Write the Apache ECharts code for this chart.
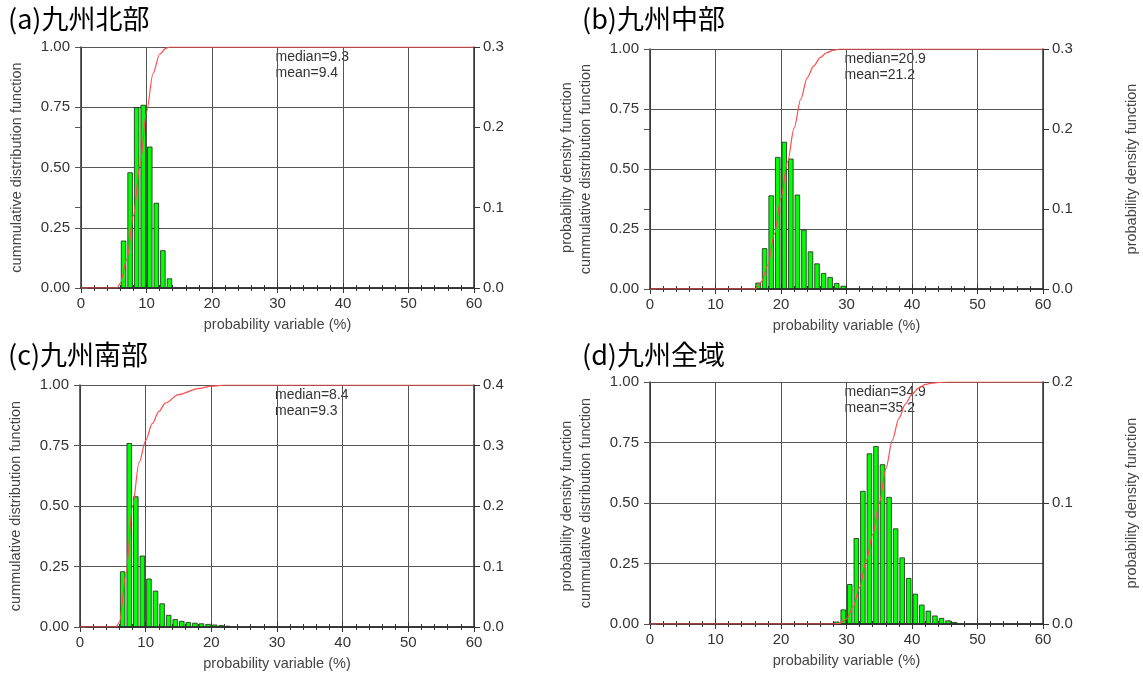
<!DOCTYPE html>
<html>
<head>
<meta charset="utf-8">
<script src="https://cdn.jsdelivr.net/npm/echarts@6/dist/echarts.min.js"></script>
<style>
html, body { margin: 0; padding: 0; background: #fff; }
#chart { width: 1143px; height: 677px; }
</style>
</head>
<body>
<div id="chart"></div>
<script>
// panel titles and summary stats
var titles = ['(a)九州北部', '(b)九州中部', '(c)九州南部', '(d)九州全域'];
var medians = ['9.3', '20.9', '8.4', '34.9'];
var means = ['9.4', '21.2', '9.3', '35.2'];
var pdfMax = [0.3, 0.3, 0.4, 0.2];

// histogram bins (bin centres, %) and probability density
var binsA = [6.5, 7.5, 8.5, 9.5, 10.5, 11.5, 12.5, 13.5];
var pdfA = [0.059, 0.144, 0.225, 0.228, 0.176, 0.106, 0.047, 0.012];
var binsB = [16.5, 17.5, 18.5, 19.5, 20.5, 21.5, 22.5, 23.5, 24.5, 25.5, 26.5, 27.5, 28.5, 29.5];
var pdfB = [0.008, 0.051, 0.117, 0.165, 0.184, 0.163, 0.118, 0.074, 0.047, 0.032, 0.020, 0.015, 0.0075, 0.004];
var binsC = [6.5, 7.5, 8.5, 9.5, 10.5, 11.5, 12.5, 13.5, 14.5, 15.5, 16.5, 17.5, 18.5, 19.5, 20.5, 21.5, 22.5];
var pdfC = [0.092, 0.304, 0.216, 0.118, 0.080, 0.060, 0.039, 0.020, 0.013, 0.010, 0.008, 0.007, 0.006, 0.005, 0.004, 0.003, 0.002];
var binsD = [28.5, 29.5, 30.5, 31.5, 32.5, 33.5, 34.5, 35.5, 36.5, 37.5, 38.5, 39.5, 40.5, 41.5, 42.5, 43.5, 44.5, 45.5, 46.5];
var pdfD = [0.002, 0.012, 0.033, 0.071, 0.110, 0.141, 0.147, 0.132, 0.105, 0.079, 0.055, 0.038, 0.025, 0.016, 0.011, 0.007, 0.005, 0.003, 0.0016];

// cumulative distribution curves
var cdfXA = [0, 5.5, 6, 7, 8, 9, 10, 11, 12, 13, 13.5, 60];
var cdfYA = [0, 0, 0.02, 0.12, 0.30, 0.51, 0.73, 0.89, 0.97, 0.995, 1, 1];
var cdfXB = [0, 16, 17, 18, 19, 20, 21, 22, 23, 24, 25, 26, 27, 28, 29, 60];
var cdfYB = [0, 0, 0.03, 0.10, 0.23, 0.38, 0.53, 0.67, 0.79, 0.88, 0.93, 0.965, 0.985, 0.995, 1, 1];
var cdfXC = [0, 5.5, 6, 7, 8, 9, 10, 11, 12, 13, 15, 18, 20, 22, 60];
var cdfYC = [0, 0, 0.02, 0.22, 0.50, 0.68, 0.77, 0.84, 0.89, 0.925, 0.96, 0.985, 0.995, 1, 1];
var cdfXD = [0, 28, 29, 30, 31, 32, 33, 34, 35, 36, 37, 38, 39, 40, 41, 42, 43, 44, 45.5, 60];
var cdfYD = [0, 0, 0.003, 0.02, 0.07, 0.15, 0.26, 0.37, 0.50, 0.64, 0.76, 0.85, 0.91, 0.95, 0.975, 0.99, 0.995, 0.998, 1, 1];

var bins = [binsA, binsB, binsC, binsD];
var pdfs = [pdfA, pdfB, pdfC, pdfD];
var cdfXs = [cdfXA, cdfXB, cdfXC, cdfXD];
var cdfYs = [cdfYA, cdfYB, cdfYC, cdfYD];

var rects = [
    { left: 81, top: 47, width: 393, height: 241 },
    { left: 650, top: 49, width: 393, height: 240 },
    { left: 80, top: 385, width: 394, height: 242 },
    { left: 650, top: 382, width: 393, height: 242 }
];
var titlePos = [[8, 20], [582, 20], [8, 356], [582, 356]];
var rightNameGap = [93, 89, 93, 89];

var font = '"Liberation Sans", Arial, sans-serif';
var lineCol = '#333';
var gridCol = '#555';

function zip(xs, ys) {
    return xs.map(function (x, i) { return [x, ys[i]]; });
}

var grids = [], xAxes = [], yAxes = [], series = [], graphics = [];

rects.forEach(function (r, i) {
    grids.push({ left: r.left, top: r.top, width: r.width, height: r.height });

    xAxes.push({
        gridIndex: i, type: 'value', min: 0, max: 60, interval: 10, position: 'bottom',
        name: 'probability variable (%)', nameLocation: 'middle', nameGap: 37,
        nameTextStyle: { fontSize: 14.5, color: '#444', fontFamily: font, verticalAlign: 'middle' },
        axisLine: { lineStyle: { color: lineCol, width: 1.5 } },
        axisTick: { length: 5, lineStyle: { color: lineCol } },
        minorTick: { show: true, splitNumber: 5, length: 3, lineStyle: { color: lineCol } },
        axisLabel: { fontSize: 15, color: '#333', margin: 8, fontFamily: font },
        splitLine: { show: true, lineStyle: { color: gridCol, width: 1 } }
    });
    xAxes.push({
        gridIndex: i, type: 'value', min: 0, max: 60, interval: 10, position: 'top',
        axisLine: { lineStyle: { color: lineCol, width: 1.5 } },
        axisTick: { length: 5, lineStyle: { color: lineCol } },
        minorTick: { show: true, splitNumber: 5, length: 3, lineStyle: { color: lineCol } },
        axisLabel: { show: false },
        splitLine: { show: false }
    });

    // cumulative distribution (left) + its ticks mirrored on the right
    yAxes.push({
        gridIndex: i, type: 'value', min: 0, max: 1, interval: 0.25, position: 'left',
        name: 'cummulative distribution function', nameLocation: 'middle', nameGap: 64, nameRotate: 90,
        nameTextStyle: { fontSize: 14.5, color: '#444', fontFamily: font, verticalAlign: 'middle' },
        axisLine: { show: true, lineStyle: { color: lineCol, width: 1.5 } },
        axisTick: { show: true, length: 6, lineStyle: { color: gridCol } },
        axisLabel: { fontSize: 15, color: '#333', margin: 11, fontFamily: font,
            formatter: function (v) { return v.toFixed(2); } },
        splitLine: { show: true, lineStyle: { color: gridCol, width: 1 } }
    });
    yAxes.push({
        gridIndex: i, type: 'value', min: 0, max: 1, interval: 0.25, position: 'right',
        axisLine: { show: false }, axisLabel: { show: false }, splitLine: { show: false },
        axisTick: { show: true, length: 6, lineStyle: { color: gridCol } }
    });
    // probability density (right) + its ticks mirrored on the left
    yAxes.push({
        gridIndex: i, type: 'value', min: 0, max: pdfMax[i], interval: 0.1, position: 'right',
        name: 'probability density function', nameLocation: 'middle', nameGap: rightNameGap[i], nameRotate: 90,
        nameTextStyle: { fontSize: 14.5, color: '#444', fontFamily: font, verticalAlign: 'middle' },
        axisLine: { show: true, lineStyle: { color: lineCol, width: 1.5 } },
        axisTick: { show: true, length: 6, lineStyle: { color: lineCol } },
        axisLabel: { fontSize: 15, color: '#333', margin: 9, fontFamily: font,
            formatter: function (v) { return v.toFixed(1); } },
        splitLine: { show: false }
    });
    yAxes.push({
        gridIndex: i, type: 'value', min: 0, max: pdfMax[i], interval: 0.1, position: 'left',
        axisLine: { show: false }, axisLabel: { show: false }, splitLine: { show: false },
        axisTick: { show: true, length: 6, lineStyle: { color: gridCol } }
    });

    series.push({
        type: 'bar', xAxisIndex: 2 * i, yAxisIndex: 4 * i + 2,
        data: zip(bins[i], pdfs[i]), barWidth: 5.4, z: 3,
        itemStyle: { color: '#00ff00', borderColor: '#222', borderWidth: 0.8 }
    });
    series.push({
        type: 'line', xAxisIndex: 2 * i, yAxisIndex: 4 * i,
        data: zip(cdfXs[i], cdfYs[i]), smooth: 0.3, smoothMonotone: 'x',
        symbol: 'none', z: 4,
        lineStyle: { color: '#ff4d4d', width: 1.2 }
    });

    graphics.push({
        type: 'text', left: titlePos[i][0], top: titlePos[i][1] - 15,
        style: { text: titles[i], fontSize: 27, fill: '#000', fontFamily: '"Noto Sans CJK JP", sans-serif' }
    });
    var tx = r.left + r.width * 30 / 60 - 2;
    graphics.push({
        type: 'text', x: tx, y: r.top + 2,
        style: { text: 'median=' + medians[i] + '\nmean=' + means[i], fontSize: 14, lineHeight: 16,
            fill: '#333', fontFamily: font }
    });
});

var chart = echarts.init(document.getElementById('chart'));
chart.setOption({
    animation: false,
    backgroundColor: '#fff',
    grid: grids,
    xAxis: xAxes,
    yAxis: yAxes,
    series: series,
    graphic: graphics
});
</script>
</body>
</html>
